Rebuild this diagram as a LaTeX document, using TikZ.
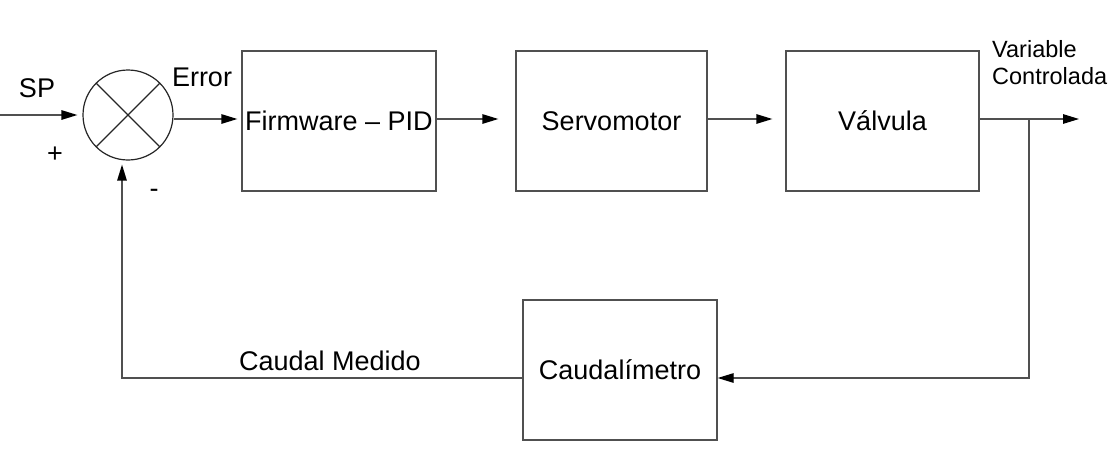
\documentclass[tikz,border=0pt]{standalone}
\usepackage{fontspec}
\setmainfont{Liberation Sans}
\usetikzlibrary{arrows.meta}
\definecolor{ln}{RGB}{80,80,80}
\begin{document}
\begin{tikzpicture}[x=1pt,y=-1pt,
  blk/.style={draw=ln,line width=1.3pt,rectangle,inner sep=0pt,font=\fontsize{27}{32}\selectfont},
  conn/.style={draw=ln,line width=1.3pt},
  arr/.style={conn,-{Triangle[length=16pt,width=9.5pt,color=black]}},
  lbl/.style={font=\fontsize{27}{32}\selectfont,inner sep=0pt}]
\useasboundingbox (0,0) rectangle (1110,458);
\node[draw=black!85,line width=1.2pt,circle,minimum size=90pt,inner sep=0pt] (sum) at (128,115) {};
\draw[draw=black!85,line width=1.2pt] (sum.45) -- (sum.225) (sum.135) -- (sum.-45);
\node[blk,minimum width=194pt,minimum height=140pt] (fw) at (339,121) {Firmware -- PID};
\node[blk,minimum width=191pt,minimum height=140pt] (servo) at (611.5,121) {Servomotor};
\node[blk,minimum width=193pt,minimum height=140pt] (valve) at (882.5,121) {Válvula};
\node[blk,minimum width=194pt,minimum height=140pt] (caud) at (620,370) {Caudalímetro};
\coordinate (sp) at (0,115);
\coordinate (tap) at (1029,119);
\coordinate (out) at (1079,119);
\coordinate (corner) at (122,378);
\draw[arr] (sp) -- ([xshift=-5pt]sum.west);
\draw[arr] (sum.east |- 0,119) -- ([xshift=-4pt,yshift=2pt]fw.west);
\draw[arr] ([yshift=2pt]fw.east) -- ([xshift=-17pt,yshift=2pt]servo.west);
\draw[arr] ([yshift=2pt]servo.east) -- ([xshift=-13pt,yshift=2pt]valve.west);
\draw[arr] ([yshift=2pt]valve.east) -- (out);
\draw[arr] (tap) -- (tap |- 0,378) -- ([yshift=-8pt]caud.east);
\draw[arr] ([yshift=-8pt]caud.west) -- (corner) -- ([yshift=-4pt]sum.south -| corner);
\node[lbl] (splbl) at (37,88) {SP};
\node[lbl] (plus) at (55,155) {+};
\node[lbl] (minus) at (154,193) {-};
\node[lbl] (err) at (202,77) {Error};
\node[lbl] (cm) at (330,361) {Caudal Medido};
\node[inner sep=0pt,align=left,anchor=north west,font=\fontsize{23.5}{27}\selectfont] (vc) at (992,40) {Variable\\Controlada};
\end{tikzpicture}
\end{document}
